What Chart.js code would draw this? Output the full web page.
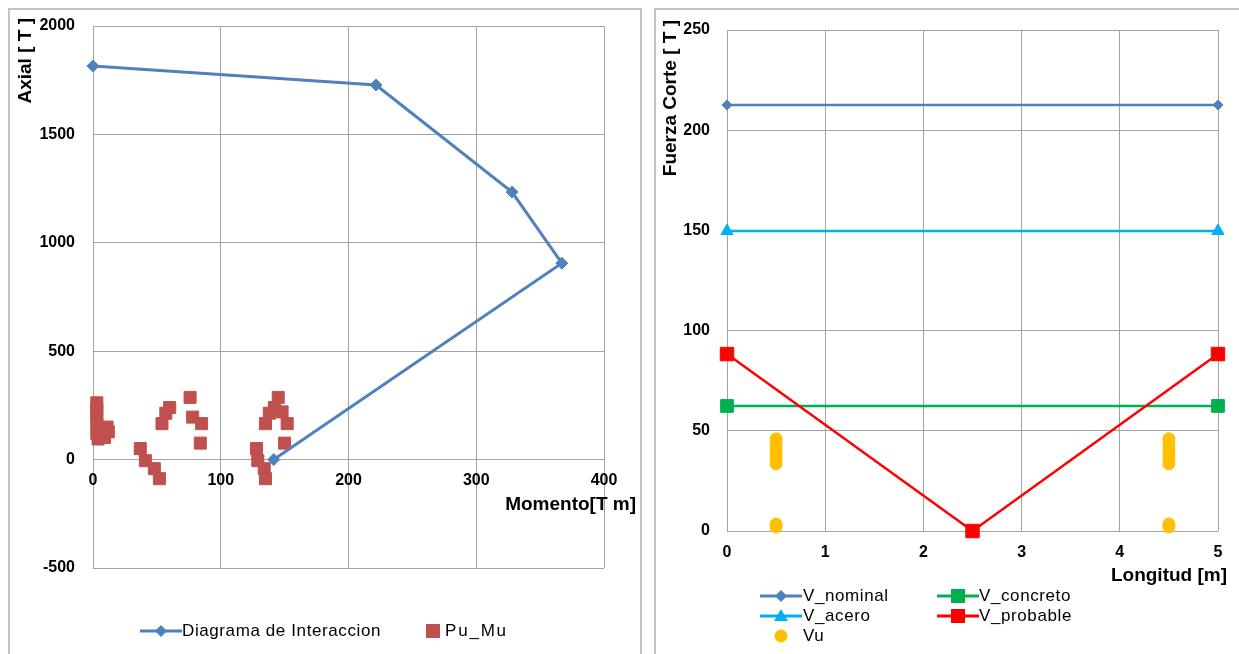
<!DOCTYPE html>
<html><head><meta charset="utf-8">
<script src="https://cdn.jsdelivr.net/npm/chart.js@4.4.1/dist/chart.umd.min.js"></script>
<style>
html,body{margin:0;padding:0;background:#fff;width:1239px;height:654px;overflow:hidden;font-family:"Liberation Sans",Arial,sans-serif;}
.frame{position:absolute;border:2px solid #c4c4c4;border-bottom:none;box-sizing:border-box;}
#f1{left:8px;top:8px;width:634px;height:660px;}
#f2{left:654px;top:8px;width:620px;height:660px;}
canvas{position:absolute;}
#c1{left:9px;top:9px;}
#c2{left:656px;top:9px;}
.leg{position:absolute;font-size:17px;color:#000;letter-spacing:0.6px;white-space:nowrap;line-height:20px;height:20px;}
.leg svg{position:absolute;top:0;}
</style>
</head><body>
<div class="frame" id="f1"></div>
<div class="frame" id="f2"></div>
<canvas id="c1" width="632" height="645"></canvas>
<canvas id="c2" width="583" height="645"></canvas>

<div class="leg" style="left:140px;top:621px;">
  <svg width="42" height="20" style="left:0"><line x1="0" y1="10" x2="42" y2="10" stroke="#4F81BD" stroke-width="3"/><polygon points="21,4 27,10 21,16 15,10" fill="#4F81BD"/></svg>
  <span style="position:absolute;left:42px;top:0;">Diagrama de Interaccion</span>
</div>
<div class="leg" style="left:425px;top:621px;">
  <svg width="16" height="20" style="left:0"><rect x="1" y="3" width="14" height="14" fill="#C0504D"/></svg>
  <span style="position:absolute;left:20px;top:0;letter-spacing:1.8px;">Pu_Mu</span>
</div>

<div class="leg" style="left:760px;top:586px;">
  <svg width="42" height="20" style="left:0"><line x1="0" y1="10" x2="42" y2="10" stroke="#4F81BD" stroke-width="3"/><polygon points="21,4 27,10 21,16 15,10" fill="#4F81BD"/></svg>
  <span style="position:absolute;left:43px;top:0;">V_nominal</span>
</div>
<div class="leg" style="left:937px;top:586px;">
  <svg width="42" height="20" style="left:0"><line x1="0" y1="10" x2="42" y2="10" stroke="#00B050" stroke-width="3"/><rect x="14" y="3" width="14" height="14" fill="#00B050"/></svg>
  <span style="position:absolute;left:42px;top:0;">V_concreto</span>
</div>
<div class="leg" style="left:760px;top:606px;">
  <svg width="42" height="20" style="left:0"><line x1="0" y1="10" x2="42" y2="10" stroke="#00B0F0" stroke-width="3"/><polygon points="21,3 28,15 14,15" fill="#00B0F0"/></svg>
  <span style="position:absolute;left:43px;top:0;">V_acero</span>
</div>
<div class="leg" style="left:937px;top:606px;">
  <svg width="42" height="20" style="left:0"><line x1="0" y1="10" x2="42" y2="10" stroke="#FF0000" stroke-width="3"/><rect x="14" y="3" width="14" height="14" fill="#FF0000"/></svg>
  <span style="position:absolute;left:42px;top:0;">V_probable</span>
</div>
<div class="leg" style="left:760px;top:626px;">
  <svg width="42" height="20" style="left:0"><circle cx="21" cy="10" r="6.5" fill="#FFC000"/></svg>
  <span style="position:absolute;left:43px;top:0;">Vu</span>
</div>

<script>
// ---- Left chart data ----
const momentoDiagrama = [0, 221.5, 328, 367, 141.5];
const axialDiagrama   = [1815, 1728, 1234, 906, 0];
const momentoPuMu = [3, 3, 3, 3, 3, 4, 11, 12, 9,
                     37, 41, 48, 52,
                     54, 57, 60,
                     76, 78, 85, 84,
                     128, 129, 134, 135,
                     135, 138, 142, 145, 148, 152, 150];
const axialPuMu   = [262, 232, 205, 170, 120, 95, 150, 128, 102,
                     51, -5, -42, -88,
                     166, 214, 240,
                     287, 196, 166, 76,
                     51, -5, -42, -88,
                     166, 214, 240, 287, 220, 166, 76];
const momentoTicks = [0, 100, 200, 300, 400];
const axialTicks   = [-500, 0, 500, 1000, 1500, 2000];

// ---- Right chart data ----
const longitud        = [0, 5];
const vNominal        = [212.6, 212.6];
const vConcreto       = [62.4, 62.4];
const vAcero          = [149.7, 149.7];
const longitudProb    = [0, 2.5, 5];
const vProbable       = [88.3, 0, 88.3];
const longitudVu      = [0.5, 0.5, 0.5, 0.5, 0.5, 0.5, 0.5, 0.5, 4.5, 4.5, 4.5, 4.5, 4.5, 4.5, 4.5, 4.5];
const vu              = [46, 43.5, 41, 38.5, 36, 33.5, 2, 3.5, 46, 43.5, 41, 38.5, 36, 33.5, 2, 3.5];
const longitudTicks   = [0, 1, 2, 3, 4, 5];
const corteTicks      = [0, 50, 100, 150, 200, 250];

const pts = (xs, ys) => xs.map((x, i) => ({x: x, y: ys[i]}));

const tickFont  = {family: "'Liberation Sans', Arial, sans-serif", size: 16, weight: 'bold'};
const titleFont = {family: "'Liberation Sans', Arial, sans-serif", size: 19, weight: 'bold'};
const GRID = '#a3a3a3';

const titleShift = {
  id: 'titleShift',
  afterLayout(chart, args, o) {
    if (o.xRight) chart.scales.x.right += o.xRight;
    if (o.yTop) chart.scales.y.top -= o.yTop;
  }
};

new Chart(document.getElementById('c1'), {
  type: 'scatter',
  plugins: [titleShift],
  data: {
    datasets: [
      {
        label: 'Diagrama de Interaccion',
        data: pts(momentoDiagrama, axialDiagrama),
        showLine: true,
        borderColor: '#4F81BD', backgroundColor: '#4F81BD',
        borderWidth: 3,
        pointStyle: 'rectRot', pointRadius: 6, pointBorderWidth: 1,
        clip: false
      },
      {
        label: 'Pu_Mu',
        data: pts(momentoPuMu, axialPuMu),
        showLine: false,
        borderColor: '#C0504D', backgroundColor: '#C0504D',
        pointStyle: 'rect', pointRadius: 8.5, pointBorderWidth: 1,
        clip: false
      }
    ]
  },
  options: {
    responsive: false, animation: false,
    layout: {padding: {left: 0, top: 17, right: 37, bottom: 86}},
    plugins: {legend: {display: false}, tooltip: {enabled: false}, titleShift: {xRight: 32, yTop: 8}},
    scales: {
      x: {
        type: 'linear', min: 0, max: 400, position: {y: 0},
        afterBuildTicks: s => { s.ticks = momentoTicks.map(v => ({value: v})); },
        ticks: {padding: 11, font: tickFont, color: '#000', callback: v => String(v), maxRotation: 0},
        grid: {color: GRID, lineWidth: 1, drawTicks: false},
        border: {display: false},
        title: {display: true, text: 'Momento[T m]', align: 'end', font: titleFont, color: '#000', padding: 0},
        afterFit: s => { s.height = 57; }
      },
      y: {
        type: 'linear', min: -500, max: 2000, position: 'left',
        afterBuildTicks: s => { s.ticks = axialTicks.map(v => ({value: v})); },
        ticks: {padding: 0, font: tickFont, color: '#000', callback: v => String(v)},
        grid: {color: GRID, lineWidth: 1, drawTicks: true, tickLength: 18, tickColor: 'rgba(0,0,0,0)'},
        border: {display: false},
        title: {display: true, text: 'Axial [ T ]', align: 'end', font: titleFont, color: '#000', padding: {top: 5, bottom: 0}},
        afterFit: s => { s.width = 84; }
      }
    }
  }
});

new Chart(document.getElementById('c2'), {
  type: 'scatter',
  plugins: [titleShift],
  data: {
    datasets: [
      {label: 'V_nominal', data: pts(longitud, vNominal), showLine: true, order: 5,
       borderColor: '#4F81BD', backgroundColor: '#4F81BD', borderWidth: 2.5,
       pointStyle: 'rectRot', pointRadius: 5, pointBorderWidth: 1, clip: false},
      {label: 'V_concreto', data: pts(longitud, vConcreto), showLine: true, order: 4,
       borderColor: '#00B050', backgroundColor: '#00B050', borderWidth: 2.5,
       pointStyle: 'rect', pointRadius: 9, pointBorderWidth: 1, clip: false},
      {label: 'V_acero', data: pts(longitud, vAcero), showLine: true, order: 3,
       borderColor: '#00B0F0', backgroundColor: '#00B0F0', borderWidth: 2.5,
       pointStyle: 'triangle', pointRadius: 7, pointBorderWidth: 1, clip: false},
      {label: 'V_probable', data: pts(longitudProb, vProbable), showLine: true, order: 2,
       borderColor: '#FF0000', backgroundColor: '#FF0000', borderWidth: 2.5,
       pointStyle: 'rect', pointRadius: 9.5, pointBorderWidth: 1, clip: false},
      {label: 'Vu', data: pts(longitudVu, vu), showLine: false, order: 1,
       borderColor: '#FFC000', backgroundColor: '#FFC000',
       pointStyle: 'circle', pointRadius: 6, pointBorderWidth: 1, clip: false}
    ]
  },
  options: {
    responsive: false, animation: false,
    layout: {padding: {left: 0, top: 21, right: 21, bottom: 67}},
    plugins: {legend: {display: false}, tooltip: {enabled: false}, titleShift: {xRight: 9, yTop: 10}},
    scales: {
      x: {
        type: 'linear', min: 0, max: 5, position: 'bottom',
        afterBuildTicks: s => { s.ticks = longitudTicks.map(v => ({value: v})); },
        ticks: {padding: 12, font: tickFont, color: '#000', callback: v => String(v), maxRotation: 0},
        grid: {color: GRID, lineWidth: 1, drawTicks: false},
        border: {display: false},
        title: {display: true, text: 'Longitud [m]', align: 'end', font: titleFont, color: '#000', padding: 0},
        afterFit: s => { s.height = 56; }
      },
      y: {
        type: 'linear', min: 0, max: 250, position: 'left',
        afterBuildTicks: s => { s.ticks = corteTicks.map(v => ({value: v})); },
        ticks: {padding: 0, font: tickFont, color: '#000', callback: v => String(v)},
        grid: {color: GRID, lineWidth: 1, drawTicks: true, tickLength: 17, tickColor: 'rgba(0,0,0,0)'},
        border: {display: false},
        title: {display: true, text: 'Fuerza Corte [ T ]', align: 'end', font: titleFont, color: '#000', padding: {top: 3, bottom: 0}},
        afterFit: s => { s.width = 71; }
      }
    }
  }
});
</script>
</body></html>
